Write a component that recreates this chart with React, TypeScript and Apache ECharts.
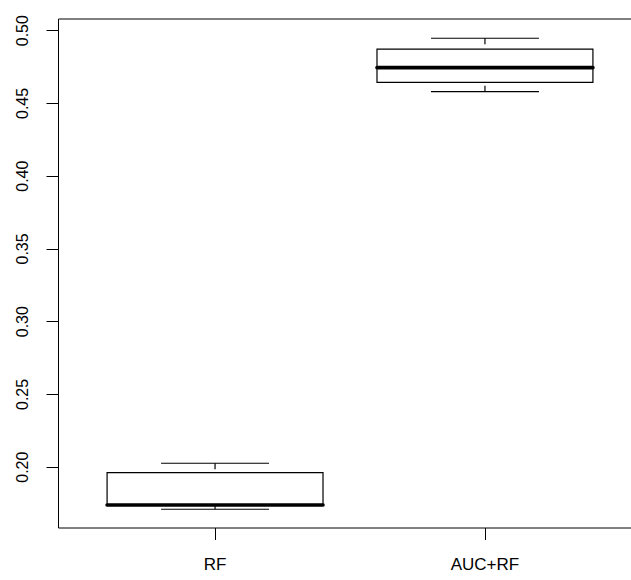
import React, { useEffect, useRef } from "react";
import * as echarts from "echarts";

const categories = ["RF", "AUC+RF"];
const lowerWhisker = [0.1711, 0.4581];
const lowerHinge = [0.1737, 0.4645];
const medians = [0.174, 0.4746];
const upperHinge = [0.1962, 0.4874];
const upperWhisker = [0.2027, 0.4948];
const yTicks = [0.2, 0.25, 0.3, 0.35, 0.4, 0.45, 0.5];

export default function App() {
  const ref = useRef<HTMLDivElement>(null);
  useEffect(() => {
    if (!ref.current) return;
    const chart = echarts.init(ref.current, null, { renderer: "svg" });
    const data = categories.map((c, i) => [
      i + 1,
      lowerWhisker[i],
      lowerHinge[i],
      medians[i],
      upperHinge[i],
      upperWhisker[i],
    ]);
    const xPositions = categories.map((c, i) => i + 1);
    const font = "Liberation Sans, Arial, Helvetica, sans-serif";
    const axisLineStyle = { show: true, lineStyle: { color: "#000", width: 1 } };
    chart.setOption({
      animation: false,
      backgroundColor: "#fff",
      grid: {
        left: 58.5,
        top: 19,
        width: 583,
        height: 509,
        outerBoundsMode: "none",
        containLabel: false,
        show: true,
        borderColor: "#000",
        borderWidth: 1,
        backgroundColor: "transparent",
      },
      xAxis: {
        type: "value",
        min: 0.42,
        max: 2.58,
        splitLine: { show: false },
        axisLine: { show: false },
        axisTick: {
          show: true,
          length: 12,
          customValues: xPositions,
          lineStyle: { color: "#000", width: 1 },
        },
        axisLabel: {
          customValues: xPositions,
          formatter: (v: number) => categories[Math.round(v) - 1] ?? "",
          color: "#000",
          fontSize: 17,
          fontFamily: font,
          margin: 28,
        },
      },
      yAxis: {
        type: "value",
        min: 0.15821,
        max: 0.50804,
        splitLine: { show: false },
        axisLine: { show: false },
        axisTick: {
          show: true,
          length: 12,
          customValues: yTicks,
          lineStyle: { color: "#000", width: 1 },
        },
        axisLabel: {
          customValues: yTicks,
          formatter: (v: number) => v.toFixed(2),
          rotate: 90,
          color: "#000",
          fontSize: 16,
          fontFamily: font,
          margin: 28,
        },
      },
      series: [
        {
          type: "custom",
          clip: false,
          data,
          encode: { x: 0, y: [1, 2, 3, 4, 5] },
          renderItem: (params: any, api: any) => {
            const x = api.value(0);
            const lw = api.value(1);
            const q1 = api.value(2);
            const med = api.value(3);
            const q3 = api.value(4);
            const uw = api.value(5);
            const p = (a: number, b: number) => api.coord([a, b]);
            const bl = p(x - 0.4, q3);
            const br = p(x + 0.4, q1);
            const stroke = { stroke: "#000", fill: "none", lineWidth: 1.2 };
            const line = (a: number[], b: number[], style: any) => ({
              type: "line",
              shape: { x1: a[0], y1: a[1], x2: b[0], y2: b[1] },
              style,
            });
            return {
              type: "group",
              children: [
                line(p(x, uw), p(x, q3), { ...stroke, lineDash: [6, 6] }),
                line(p(x, lw), p(x, q1), { ...stroke, lineDash: [6, 6] }),
                line(p(x - 0.2, uw), p(x + 0.2, uw), stroke),
                line(p(x - 0.2, lw), p(x + 0.2, lw), stroke),
                {
                  type: "rect",
                  shape: {
                    x: bl[0],
                    y: bl[1],
                    width: br[0] - bl[0],
                    height: br[1] - bl[1],
                  },
                  style: stroke,
                },
                line(p(x - 0.4, med), p(x + 0.4, med), {
                  stroke: "#000",
                  lineWidth: 3.6,
                  lineCap: "round",
                }),
              ],
            };
          },
        },
      ],
    });
    return () => chart.dispose();
  }, []);
  return (
    <div style={{ position: "fixed", left: 0, top: 0, width: 631, height: 580, overflow: "hidden" }}>
      <div ref={ref} style={{ width: 660, height: 580 }} />
    </div>
  );
}
